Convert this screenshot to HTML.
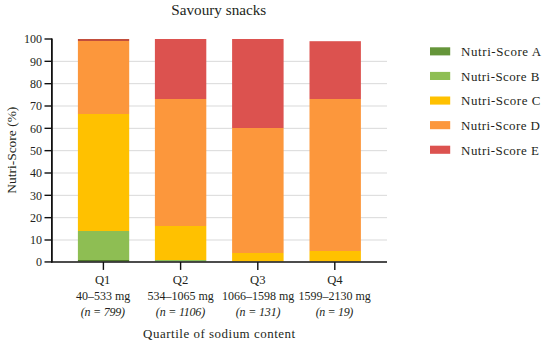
<!DOCTYPE html>
<html><head><meta charset="utf-8">
<style>
html,body{margin:0;padding:0;background:#fff;}
body{width:550px;height:344px;overflow:hidden;}
svg{display:block;}
text{font-family:"Liberation Serif",serif;fill:#231f20;}
</style></head>
<body>
<svg width="550" height="344" viewBox="0 0 550 344">
<rect width="550" height="344" fill="#fff"/>
<!-- title -->
<text x="171.3" y="15.3" font-size="15" textLength="95" lengthAdjust="spacingAndGlyphs">Savoury snacks</text>
<!-- gridlines -->
<g stroke="#d9d9d9" stroke-width="1">
<line x1="52" x2="387" y1="61.33" y2="61.33"/>
<line x1="52" x2="387" y1="83.67" y2="83.67"/>
<line x1="52" x2="387" y1="106.00" y2="106.00"/>
<line x1="52" x2="387" y1="128.33" y2="128.33"/>
<line x1="52" x2="387" y1="150.66" y2="150.66"/>
<line x1="52" x2="387" y1="173.00" y2="173.00"/>
<line x1="52" x2="387" y1="195.33" y2="195.33"/>
<line x1="52" x2="387" y1="217.66" y2="217.66"/>
<line x1="52" x2="387" y1="240.00" y2="240.00"/>
</g>
<!-- bars -->
<defs>
<linearGradient id="g1" gradientUnits="userSpaceOnUse" x1="0" y1="39.0" x2="0" y2="261.4"><stop offset="0.00000" stop-color="#c24e3c"/><stop offset="0.00944" stop-color="#c24e3c"/><stop offset="0.00944" stop-color="#fc973c"/><stop offset="0.33903" stop-color="#fc973c"/><stop offset="0.33903" stop-color="#ffc100"/><stop offset="0.86331" stop-color="#ffc100"/><stop offset="0.86331" stop-color="#8ebe53"/><stop offset="0.99371" stop-color="#8ebe53"/><stop offset="0.99371" stop-color="#4f7a28"/><stop offset="1.00000" stop-color="#4f7a28"/></linearGradient>
<linearGradient id="g2" gradientUnits="userSpaceOnUse" x1="0" y1="39.0" x2="0" y2="261.4"><stop offset="0.00000" stop-color="#dc524f"/><stop offset="0.26866" stop-color="#dc524f"/><stop offset="0.26866" stop-color="#fc973c"/><stop offset="0.84128" stop-color="#fc973c"/><stop offset="0.84128" stop-color="#ffc100"/><stop offset="0.99371" stop-color="#ffc100"/><stop offset="0.99371" stop-color="#8ebe53"/><stop offset="1.00000" stop-color="#8ebe53"/></linearGradient>
<linearGradient id="g3" gradientUnits="userSpaceOnUse" x1="0" y1="39.0" x2="0" y2="261.4"><stop offset="0.00000" stop-color="#dc524f"/><stop offset="0.40040" stop-color="#dc524f"/><stop offset="0.40040" stop-color="#fc973c"/><stop offset="0.96335" stop-color="#fc973c"/><stop offset="0.96335" stop-color="#ffc100"/><stop offset="1.00000" stop-color="#ffc100"/></linearGradient>
<linearGradient id="g4" gradientUnits="userSpaceOnUse" x1="0" y1="41.2" x2="0" y2="261.4"><stop offset="0.00000" stop-color="#dc524f"/><stop offset="0.26135" stop-color="#dc524f"/><stop offset="0.26135" stop-color="#fc973c"/><stop offset="0.95209" stop-color="#fc973c"/><stop offset="0.95209" stop-color="#ffc100"/><stop offset="1.00000" stop-color="#ffc100"/></linearGradient>
</defs>
<g>
<rect x="77.9" y="39.0" width="51.3" height="222.4" fill="url(#g1)"/>
<rect x="154.9" y="39.0" width="51.4" height="222.4" fill="url(#g2)"/>
<rect x="232.1" y="39.0" width="51.5" height="222.4" fill="url(#g3)"/>
<rect x="309.5" y="41.2" width="51.4" height="220.2" fill="url(#g4)"/>
</g>
<!-- axes -->
<g stroke="#111" fill="none">
<line x1="51.9" x2="51.9" y1="38.4" y2="262.6" stroke-width="1.8"/>
<line x1="51" x2="387" y1="261.95" y2="261.95" stroke-width="1.5"/>
<g stroke-width="1.4">
<line x1="44.5" x2="52" y1="39.0" y2="39.0"/>
<line x1="44.5" x2="52" y1="61.33" y2="61.33"/>
<line x1="44.5" x2="52" y1="83.67" y2="83.67"/>
<line x1="44.5" x2="52" y1="106.00" y2="106.00"/>
<line x1="44.5" x2="52" y1="128.33" y2="128.33"/>
<line x1="44.5" x2="52" y1="150.66" y2="150.66"/>
<line x1="44.5" x2="52" y1="173.00" y2="173.00"/>
<line x1="44.5" x2="52" y1="195.33" y2="195.33"/>
<line x1="44.5" x2="52" y1="217.66" y2="217.66"/>
<line x1="44.5" x2="52" y1="240.00" y2="240.00"/>
<line x1="44.5" x2="52" y1="261.95" y2="261.95"/>
<line x1="103.4" x2="103.4" y1="262" y2="269.9"/>
<line x1="180.6" x2="180.6" y1="262" y2="269.9"/>
<line x1="257.8" x2="257.8" y1="262" y2="269.9"/>
<line x1="334.8" x2="334.8" y1="262" y2="269.9"/>
</g>
</g>
<!-- y labels -->
<g font-size="12" text-anchor="end">
<text x="42" y="43.40">100</text>
<text x="42" y="65.73">90</text>
<text x="42" y="88.07">80</text>
<text x="42" y="110.40">70</text>
<text x="42" y="132.73">60</text>
<text x="42" y="155.06">50</text>
<text x="42" y="177.40">40</text>
<text x="42" y="199.73">30</text>
<text x="42" y="222.06">20</text>
<text x="42" y="244.40">10</text>
<text x="42" y="266.35">0</text>
</g>
<!-- y title -->
<text transform="translate(16.4,150.2) rotate(-90)" font-size="12.6" text-anchor="middle" textLength="87" lengthAdjust="spacingAndGlyphs">Nutri-Score (%)</text>
<!-- x labels -->
<g font-size="12" text-anchor="middle">
<text x="102.7" y="284.0" textLength="15.5" lengthAdjust="spacingAndGlyphs">Q1</text>
<text x="180.6" y="284.0" textLength="15.5" lengthAdjust="spacingAndGlyphs">Q2</text>
<text x="257.8" y="284.0" textLength="15.5" lengthAdjust="spacingAndGlyphs">Q3</text>
<text x="334.9" y="284.0" textLength="15.5" lengthAdjust="spacingAndGlyphs">Q4</text>
<text x="103.2" y="300.4">40–533 mg</text>
<text x="180.6" y="300.4">534–1065 mg</text>
<text x="258.2" y="300.4">1066–1598 mg</text>
<text x="334.7" y="300.4">1599–2130 mg</text>
<text x="102.9" y="315.8" font-style="italic" textLength="44.1" lengthAdjust="spacing">(n = 799)</text>
<text x="180.5" y="315.8" font-style="italic" textLength="49.3" lengthAdjust="spacing">(n = 1106)</text>
<text x="258.1" y="315.8" font-style="italic" textLength="44.7" lengthAdjust="spacing">(n = 131)</text>
<text x="334.5" y="315.8" font-style="italic" textLength="37.7" lengthAdjust="spacing">(n = 19)</text>
</g>
<text transform="translate(143.1,337.8) scale(1.08,1)" x="0" y="0" font-size="12" textLength="140.83" lengthAdjust="spacing">Quartile of sodium content</text>
<!-- legend -->
<rect x="430" y="47.3" width="20.2" height="8.1" fill="#65953a"/>
<rect x="430" y="71.9" width="20.2" height="8.1" fill="#8ebe53"/>
<rect x="430" y="96.5" width="20.2" height="8.1" fill="#ffc100"/>
<rect x="430" y="121.1" width="20.2" height="8.1" fill="#fc973c"/>
<rect x="430" y="145.7" width="20.2" height="8.1" fill="#dc524f"/>
<g font-size="12">
<text transform="translate(461.1,56.1) scale(1.08,1)" x="0" y="0" textLength="74.17" lengthAdjust="spacing">Nutri-Score A</text>
<text transform="translate(461.1,80.7) scale(1.08,1)" x="0" y="0" textLength="72.50" lengthAdjust="spacing">Nutri-Score B</text>
<text transform="translate(461.1,105.3) scale(1.08,1)" x="0" y="0" textLength="73.33" lengthAdjust="spacing">Nutri-Score C</text>
<text transform="translate(461.1,129.9) scale(1.08,1)" x="0" y="0" textLength="72.96" lengthAdjust="spacing">Nutri-Score D</text>
<text transform="translate(461.1,154.5) scale(1.08,1)" x="0" y="0" textLength="72.04" lengthAdjust="spacing">Nutri-Score E</text>
</g>
</svg>
</body></html>
